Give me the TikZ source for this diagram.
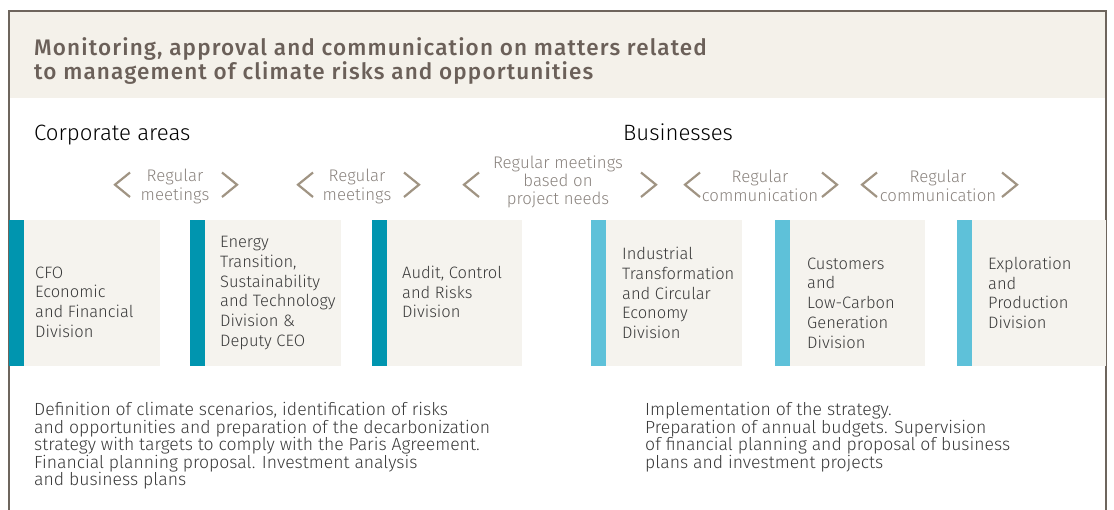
\documentclass[tikz,border=0pt]{standalone}
\usepackage{fontspec}
\setmainfont{Fira Sans Light}
\newfontfamily\titlefont{Fira Sans Medium}[LetterSpace=5]
\usetikzlibrary{positioning}

\definecolor{frameline}{HTML}{6E655D}
\definecolor{headfill}{HTML}{F4F1EA}
\definecolor{boxfill}{HTML}{F5F3EE}
\definecolor{corpbar}{HTML}{0095AF}
\definecolor{busbar}{HTML}{5EC1D9}
\definecolor{chevcol}{HTML}{A09483}
\definecolor{linktext}{HTML}{8A837E}
\definecolor{bodytext}{HTML}{3A3A3A}
\definecolor{titletext}{HTML}{6B6059}

\tikzset{
  divtext/.style={anchor=west, inner sep=0pt, align=left, text=bodytext,
    font=\fontsize{16.5}{19.7}\selectfont},
  linklabel/.style={inner sep=0pt, align=center, text=linktext,
    font=\fontsize{16.8}{18.3}\selectfont},
  areatitle/.style={anchor=base west, inner sep=0pt, font=\fontsize{22.2}{26}\selectfont},
  bodyblock/.style={anchor=north west, inner sep=0pt, align=left, text=bodytext,
    font=\fontsize{17.6}{17.6}\selectfont},
  chev/.style={draw=chevcol, line width=2.2pt, line join=miter},
}

\begin{document}
\begin{tikzpicture}[x=1pt, y=-1pt]
\useasboundingbox (0,0) rectangle (1114,510);

% frame and header band
\fill[headfill] (9,11) rectangle (1106,98);
\draw[frameline, line width=1.2pt] (9,510) -- (9,11) -- (1106,11) -- (1106,510);
\node[anchor=north west, inner sep=0pt, align=left, text=titletext,
  font=\titlefont\fontsize{22.5}{24}\selectfont] (title) at (34,37)
  {Monitoring, approval and communication on matters related\\
   to management of climate risks and opportunities};

% group headings
\node[areatitle] (corp) at (34,141) {Corporate areas};
\node[areatitle] (bus) at (623,141) {Businesses};

% link labels with chevrons
\node[linklabel] (meet1) at (175,186.5) {Regular\\meetings};
\node[linklabel] (meet2) at (357,186.5) {Regular\\meetings};
\node[linklabel] (meet3) at (558,182) {Regular meetings\\based on\\project needs};
\node[linklabel] (comm1) at (760,186) {Regular\\communication};
\node[linklabel] (comm2) at (938,186) {Regular\\communication};
\foreach \l/\r in {115/222, 298/404, 464/641, 685/822, 862/1002}{
  \draw[chev] (\l+15,172.5) -- (\l,184.7) -- (\l+15,197);
  \draw[chev] (\r,172.5) -- (\r+15,184.7) -- (\r,197);
}

% division boxes
\foreach \a/\b/\c in {9/160/corpbar, 190/341/corpbar, 372/522/corpbar,
                      591/742/busbar, 775/925/busbar, 957/1106/busbar}{
  \fill[boxfill] (\a,220) rectangle (\b,366);
  \fill[\c] (\a,220) rectangle (\a+15,366);
}
\node[divtext] (cfo) at (35,302) {CFO\\Economic\\and Financial\\Division};
\node[divtext] (energy) at (220,293) {Energy\\Transition,\\Sustainability\\and Technology\\Division \&\\Deputy CEO};
\node[divtext] (audit) at (402,292) {Audit, Control\\and Risks\\Division};
\node[divtext] (industrial) at (622,293) {Industrial\\Transformation\\and Circular\\Economy\\Division};
\node[divtext] (customers) at (807,303) {Customers\\and\\Low-Carbon\\Generation\\Division};
\node[divtext] (exploration) at (988,293) {Exploration\\and\\Production\\Division};

% responsibilities
\node[bodyblock] (corpdesc) at (34,402) {Definition of climate scenarios, identification of risks\\
  and opportunities and preparation of the decarbonization\\
  strategy with targets to comply with the Paris Agreement.\\
  Financial planning proposal. Investment analysis\\
  and business plans};
\node[bodyblock] (busdesc) at (645,402) {Implementation of the strategy.\\
  Preparation of annual budgets. Supervision\\
  of financial planning and proposal of business\\
  plans and investment projects};
\end{tikzpicture}
\end{document}
